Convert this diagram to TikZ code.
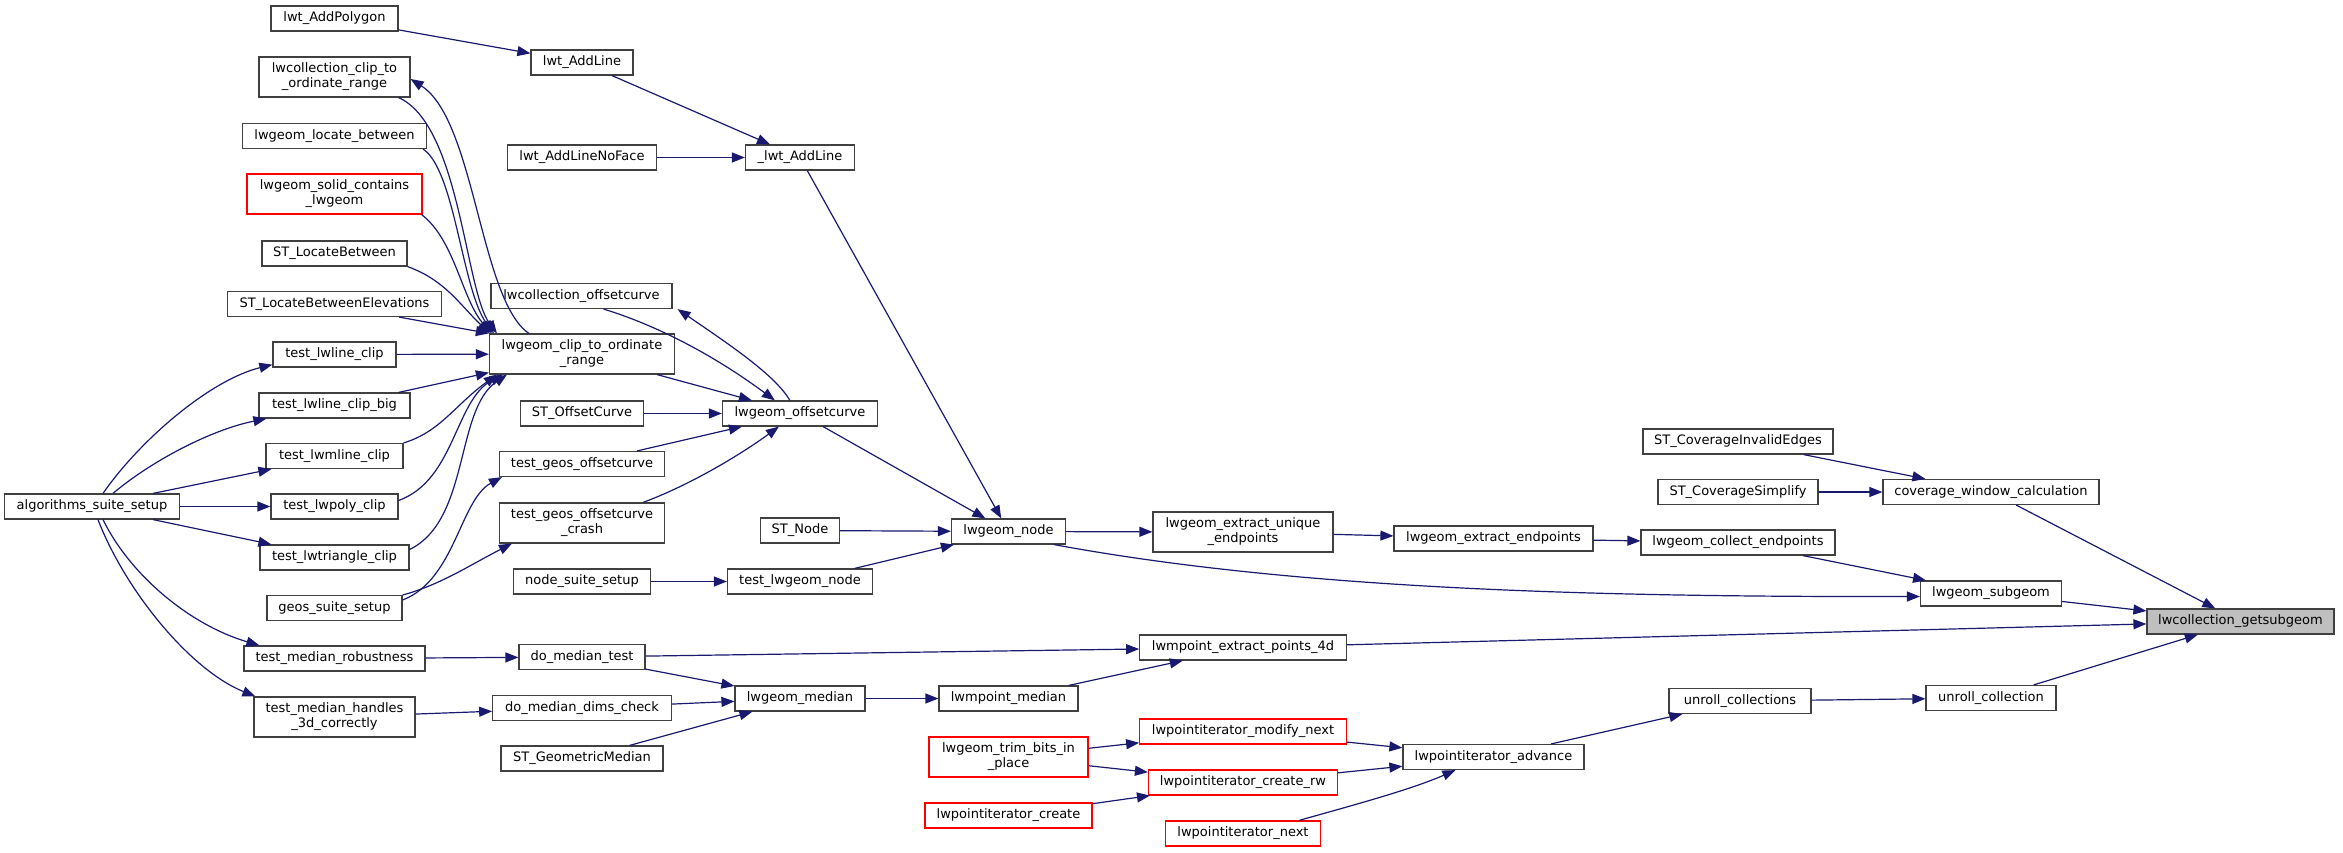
\documentclass[tikz,border=0pt]{standalone}
\usepackage{fontspec}
\setmainfont{DejaVu Sans}
\usetikzlibrary{arrows.meta}
\definecolor{edgec}{HTML}{191970}
\definecolor{bord}{HTML}{404040}
\definecolor{focusc}{HTML}{BFBFBF}
\tikzset{
  box/.style={draw=bord, line width=1.2pt, fill=white, minimum height=25pt, inner sep=0pt,
              font=\fontsize{13}{15}\selectfont, align=center},
  tall/.style={minimum height=40pt},
  redb/.style={draw=red},
  focus/.style={fill=focusc},
  conn/.style={draw=edgec, line width=1.2pt, -{Triangle[length=13pt,width=10pt]}}
}
\begin{document}
\begin{tikzpicture}[x=1pt,y=-1pt]
\useasboundingbox (0,0) rectangle (2343,852);
% column 1
\node[box, minimum width=175pt] (algsuite) at (92,506.5) {algorithms\_suite\_setup};
% column 2
\node[box, minimum width=127pt] (addpoly) at (334.5,18.5) {lwt\_AddPolygon};
\node[box, tall, minimum width=151pt] (colclip) at (334.5,77) {lwcollection\_clip\_to\\\_ordinate\_range};
\node[box, minimum width=184pt] (locbetween) at (334.5,136) {lwgeom\_locate\_between};
\node[box, tall, redb, minimum width=175pt] (solid) at (334.5,194) {lwgeom\_solid\_contains\\\_lwgeom};
\node[box, minimum width=145pt] (stlocb) at (334.5,253.5) {ST\_LocateBetween};
\node[box, minimum width=214pt] (stlocbe) at (334.5,304) {ST\_LocateBetweenElevations};
\node[box, minimum width=123pt] (tline) at (334.5,354.5) {test\_lwline\_clip};
\node[box, minimum width=151pt] (tlinebig) at (334.5,405.5) {test\_lwline\_clip\_big};
\node[box, minimum width=137pt] (tmline) at (334.5,456) {test\_lwmline\_clip};
\node[box, minimum width=127pt] (tpoly) at (334.5,506.5) {test\_lwpoly\_clip};
\node[box, minimum width=149pt] (ttri) at (334.5,557.5) {test\_lwtriangle\_clip};
\node[box, minimum width=135pt] (geossuite) at (334.5,608) {geos\_suite\_setup};
\node[box, minimum width=181pt] (tmrob) at (334.5,658.5) {test\_median\_robustness};
\node[box, tall, minimum width=161pt] (tm3d) at (334.5,717) {test\_median\_handles\\\_3d\_correctly};
% column 3
\node[box, minimum width=102pt] (addline) at (582,62.5) {lwt\_AddLine};
\node[box, minimum width=149pt] (addlinenf) at (582,157.5) {lwt\_AddLineNoFace};
\node[box, minimum width=181pt] (coloff) at (581.5,296) {lwcollection\_offsetcurve};
\node[box, tall, minimum width=185pt] (geoclip) at (582,354) {lwgeom\_clip\_to\_ordinate\\\_range};
\node[box, minimum width=122.5pt] (stoff) at (582,413.5) {ST\_OffsetCurve};
\node[box, minimum width=165pt] (tgeos) at (582,464) {test\_geos\_offsetcurve};
\node[box, tall, minimum width=165pt] (tgeoscr) at (582,523) {test\_geos\_offsetcurve\\\_crash};
\node[box, minimum width=136.5pt] (nodesuite) at (582,581.5) {node\_suite\_setup};
\node[box, minimum width=126pt] (domt) at (582,657) {do\_median\_test};
\node[box, minimum width=178.5pt] (dodims) at (582,708) {do\_median\_dims\_check};
\node[box, minimum width=162pt] (stgm) at (582,758.5) {ST\_GeometricMedian};
% column 4
\node[box, minimum width=109pt] (uaddline) at (800,157.5) {\_lwt\_AddLine};
\node[box, minimum width=155pt] (geoff) at (800,413.5) {lwgeom\_offsetcurve};
\node[box, minimum width=79pt] (stnode) at (800,530.5) {ST\_Node};
\node[box, minimum width=145pt] (tlwnode) at (800,581.5) {test\_lwgeom\_node};
\node[box, minimum width=130pt] (gmed) at (800,698.5) {lwgeom\_median};
% column 5
\node[box, minimum width=114pt] (gnode) at (1008.5,531.5) {lwgeom\_node};
\node[box, minimum width=139pt] (mpmed) at (1008.5,698.5) {lwmpoint\_median};
\node[box, tall, redb, minimum width=159pt] (trim) at (1008.5,757) {lwgeom\_trim\_bits\_in\\\_place};
\node[box, redb, minimum width=167pt] (picreate) at (1008.5,815.5) {lwpointiterator\_create};
% column 6
\node[box, tall, minimum width=180pt] (extuniq) at (1243,532) {lwgeom\_extract\_unique\\\_endpoints};
\node[box, minimum width=206.5pt] (mpext) at (1243,647.5) {lwmpoint\_extract\_points\_4d};
\node[box, redb, minimum width=206.5pt] (pimod) at (1243,731.5) {lwpointiterator\_modify\_next};
\node[box, redb, minimum width=189pt] (picrw) at (1243,782.5) {lwpointiterator\_create\_rw};
\node[box, redb, minimum width=155pt] (pinext) at (1243,833.5) {lwpointiterator\_next};
% column 7
\node[box, minimum width=199pt] (extend) at (1493.5,538.5) {lwgeom\_extract\_endpoints};
\node[box, minimum width=181pt] (piadv) at (1493.5,757) {lwpointiterator\_advance};
% column 8
\node[box, minimum width=190pt] (stcie) at (1738,441.5) {ST\_CoverageInvalidEdges};
\node[box, minimum width=160pt] (stcs) at (1738,492) {ST\_CoverageSimplify};
\node[box, minimum width=194pt] (collend) at (1738,542.5) {lwgeom\_collect\_endpoints};
\node[box, minimum width=142pt] (unrolls) at (1740,701) {unroll\_collections};
% column 9
\node[box, minimum width=216pt] (covwin) at (1991,492) {coverage\_window\_calculation};
\node[box, minimum width=141pt] (subgeom) at (1991,593.5) {lwgeom\_subgeom};
\node[box, minimum width=130pt] (unroll) at (1991,698) {unroll\_collection};
% column 10
\node[box, focus, minimum width=187pt] (getsub) at (2240.5,621.5) {lwcollection\_getsubgeom};

% ---- edges ----
\draw[conn] (addpoly) -- (addline);
\draw[conn] (addline) -- (uaddline);
\draw[conn] (addlinenf) -- (uaddline);
\draw[conn] (uaddline) -- (gnode);

% clip fan (top)
\draw[conn] ([xshift=-12pt]colclip.south east) .. controls (460,125) and (465,290) .. ([xshift=8pt]geoclip.north west);
\draw[conn] ([xshift=40pt]geoclip.north west) .. controls (480,300) and (475,120) .. ([yshift=-2pt]colclip.east);
\draw[conn] ([xshift=-4pt]locbetween.south east) .. controls (455,170) and (462,290) .. ([xshift=5pt]geoclip.north west);
\draw[conn] ([xshift=-1pt]solid.south east) .. controls (455,240) and (462,300) .. ([xshift=3pt]geoclip.north west);
\draw[conn] (stlocb.south east) .. controls (445,280) and (460,305) .. ([xshift=1pt]geoclip.north west);
\draw[conn] ([xshift=-43pt]stlocbe.south east) -- (geoclip.north west);
% clip fan (bottom)
\draw[conn] (tline) -- (geoclip);
\draw[conn] ([xshift=-12pt]tlinebig.north east) -- ([yshift=2pt]geoclip.south west);
\draw[conn] (tmline.north east) .. controls (440,432) and (455,405) .. ([xshift=8pt]geoclip.south west);
\draw[conn] ([yshift=6pt]tpoly.east) .. controls (455,480) and (455,400) .. ([xshift=14pt]geoclip.south west);
\draw[conn] ([yshift=8pt]ttri.east) .. controls (470,520) and (455,410) .. ([xshift=18pt]geoclip.south west);

% algorithms_suite_setup
\draw[conn] ([xshift=11pt]algsuite.north) .. controls (140,440) and (210,380) .. ([yshift=3pt]tline.south west);
\draw[conn] ([xshift=21pt]algsuite.north) .. controls (150,462) and (210,430) .. ([xshift=8pt]tlinebig.south west);
\draw[conn] ([xshift=61pt]algsuite.north) -- ([xshift=6pt]tmline.south west);
\draw[conn] (algsuite) -- (tpoly);
\draw[conn] ([xshift=61pt]algsuite.south) -- ([xshift=12pt]ttri.north west);
\draw[conn] ([xshift=11pt]algsuite.south) .. controls (130,575) and (190,625) .. ([xshift=16pt]tmrob.north west);
\draw[conn] ([xshift=6pt]algsuite.south) .. controls (125,590) and (190,670) .. ([xshift=2pt]tm3d.north west);

% offsetcurve
\draw[conn] ([xshift=-18pt]geoclip.south east) -- ([xshift=30pt]geoff.north west);
\draw[conn] ([xshift=-69pt]coloff.south east) .. controls (640,320) and (700,345) .. ([xshift=53pt]geoff.north west);
\draw[conn] ([xshift=68pt]geoff.north west) .. controls (775,375) and (730,345) .. ([xshift=5pt]coloff.south east);
\draw[conn] (stoff) -- (geoff);
\draw[conn] ([xshift=-28pt]tgeos.north east) -- ([xshift=20pt]geoff.south west);
\draw[conn] ([xshift=-22pt]tgeoscr.north east) .. controls (690,485) and (740,455) .. ([xshift=57pt]geoff.south west);
\draw[conn] ([yshift=8pt]geossuite.east) .. controls (455,580) and (460,500) .. ([xshift=3pt]tgeos.south west);
\draw[conn] ([yshift=13pt]geossuite.east) .. controls (440,585) and (470,565) .. ([xshift=13pt]tgeoscr.south west);

% node
\draw[conn] (geoff) -- (gnode);
\draw[conn] (stnode) -- (gnode);
\draw[conn] (nodesuite) -- (tlwnode);
\draw[conn] (tlwnode) -- (gnode);
\draw[conn] (gnode) -- (extuniq);
\draw[conn] ([xshift=-12pt]gnode.south east) .. controls (1300,590) and (1600,597) .. ([yshift=-3pt]subgeom.west);
\draw[conn] (extuniq) -- (extend);
\draw[conn] (extend) -- (collend);
\draw[conn] (collend) -- (subgeom);
\draw[conn] (stcie) -- (covwin);
\draw[conn] (stcs) -- (covwin);
\draw[conn] (covwin) -- (getsub);
\draw[conn] (subgeom) -- (getsub);
\draw[conn] (mpext) -- (getsub);
\draw[conn] (unroll) -- (getsub);

% median
\draw[conn] (tmrob) -- (domt);
\draw[conn] (tm3d) -- (dodims);
\draw[conn] (domt) -- (mpext);
\draw[conn] (domt) -- (gmed);
\draw[conn] (dodims) -- (gmed);
\draw[conn] (stgm) -- (gmed);
\draw[conn] (gmed) -- (mpmed);
\draw[conn] (mpmed) -- (mpext);

% point iterator
\draw[conn] (trim) -- (pimod);
\draw[conn] (trim) -- (picrw);
\draw[conn] (picreate) -- (picrw);
\draw[conn] (pimod) -- (piadv);
\draw[conn] (picrw) -- (piadv);
\draw[conn] ([xshift=-22pt]pinext.north east) .. controls (1350,806) and (1410,790) .. ([xshift=53pt]piadv.south west);
\draw[conn] (piadv) -- (unrolls);
\draw[conn] (unrolls) -- (unroll);
\end{tikzpicture}
\end{document}
